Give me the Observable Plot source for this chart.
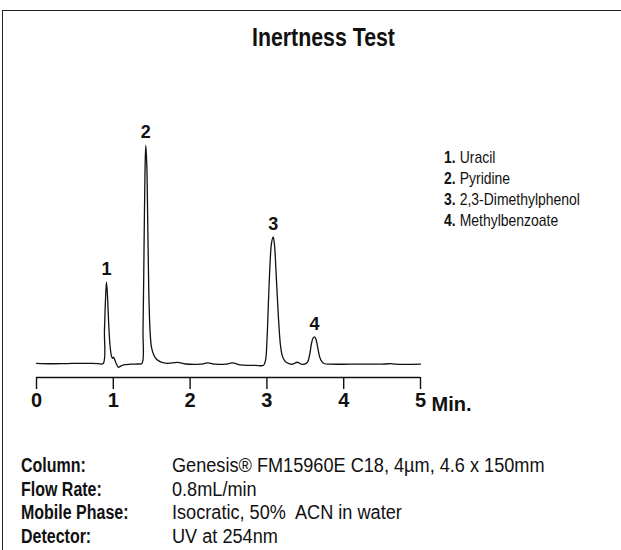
<!DOCTYPE html>
<html>
<head>
<meta charset="utf-8">
<script src="https://cdn.jsdelivr.net/npm/d3@7"></script>
<script src="https://cdn.jsdelivr.net/npm/@observablehq/plot@0.6"></script>
<style>
  html, body { margin: 0; padding: 0; background: #fff; overflow: hidden; }
  #wrap { position: relative; width: 621px; height: 550px; overflow: hidden; background: #fff;
          font-family: "Liberation Sans", Arial, sans-serif; color: #111; }
  #box { position: absolute; left: 2px; top: 10px; width: 800px; height: 800px;
         border-top: 1.6px solid #222; border-left: 1.6px solid #222; }
  .nar { display: inline-block; transform: scaleX(0.82); transform-origin: 0 0; white-space: nowrap; }
  .nar2 { display: inline-block; transform: scaleX(0.93); transform-origin: 0 0; white-space: nowrap; }
  #title { position: absolute; left: 252px; top: 22px; font-weight: bold; font-size: 26px; }
  #chart { position: absolute; left: 0; top: 60px; }
  #legend { position: absolute; left: 444px; top: 147px; font-size: 17px; line-height: 21px; }
  #legend b { margin-right: 5px; }
  #info { position: absolute; left: 21px; top: 454px; font-size: 19.5px; line-height: 23.7px; }
  #info .row { position: relative; height: 23.7px; }
  #info .k { position: absolute; left: 0; font-weight: bold; }
  #info .v { position: absolute; left: 151px; }
</style>
</head>
<body>
<div id="wrap">
  <div id="box"></div>
  <div id="title"><span class="nar"></span></div>
  <div id="chart"></div>
  <div id="legend"></div>
  <div id="info"></div>
</div>
<script>
// Chromatogram trace: time (min) and detector response (relative units)
const traceTime = [0, 0.2, 0.4, 0.6, 0.8, 0.868, 0.885, 0.898, 0.911, 0.924, 0.938, 0.957, 0.977, 0.99, 1.003, 1.022, 1.042, 1.068, 1.094, 1.133, 1.224, 1.328, 1.374,
  1.387, 1.400, 1.413, 1.423, 1.436, 1.449, 1.462, 1.478, 1.497, 1.523, 1.563, 1.615, 1.706, 1.836, 1.94, 2.135, 2.227, 2.331, 2.461, 2.552, 2.656, 2.852, 2.956,
  2.982, 3.001, 3.021, 3.04, 3.06, 3.082, 3.099, 3.118, 3.138, 3.158, 3.177, 3.203, 3.242, 3.294, 3.333, 3.395, 3.438, 3.49,
  3.529, 3.555, 3.581, 3.60, 3.62, 3.639, 3.659, 3.685, 3.711, 3.75, 3.828, 4.089, 4.349, 4.544, 4.609, 4.674, 5.0];
const traceSignal = [0.1, -0.1, 0, 0.1, 0, 0, 15.3, 29, 37.3, 31.3, 19.9, 8.4, 3.3, 2.4, 2.9, 1.5, -0.3, -1.7, -1.2, -0.6, -0.3, -0.2, 0.1,
  15.3, 52, 88.7, 100, 91, 63.4, 33.6, 15.3, 7.5, 4.3, 2, 0.8, 0.1, 0.5, -0.2, -0.3, 0.3, -0.3, -0.3, 0.3, -0.6, -0.8, -0.8,
  1.5, 10.7, 29, 45, 55.2, 58.1, 54.3, 42.8, 29, 16.7, 8.4, 3.3, 0.8, -0.1, -0.3, 0.6, -0.1, -0.3,
  0.6, 3.8, 9.3, 11.6, 12.2, 11.1, 7.9, 3.3, 1.1, -0.1, -0.3, -0.3, -0.3, -0.2, 0, -0.3, -0.3];

// Peaks
const peakNumbers = [1, 2, 3, 4];
const peakTimes = [0.911, 1.423, 3.082, 3.62];
const peakHeights = [37.3, 100, 58.1, 12.2];
const compounds = ["Uracil", "Pyridine", "2,3-Dimethylphenol", "Methylbenzoate"];

// Axis
const xTicks = [0, 1, 2, 3, 4, 5];
const xUnit = "Min.";
const title = "Inertness Test";

// Conditions
const condLabels = ["Column:", "Flow Rate:", "Mobile Phase:", "Detector:"];
const condValues = ["Genesis\u00AE FM15960E C18, 4\u00B5m, 4.6 x 150mm", "0.8mL/min", "Isocratic, 50%\u00A0 ACN in water", "UV at 254nm"];

const trace = traceTime.map((t, i) => ({t, s: traceSignal[i]}));
const peaks = peakNumbers.map((n, i) => ({n, t: peakTimes[i], s: peakHeights[i]}));
const yMin = -6.4, yMax = 100;

const font = '"Liberation Sans", Arial, sans-serif';

const plot = Plot.plot({
  width: 621,
  height: 370,
  marginLeft: 36,
  marginRight: 201,
  marginTop: 85,
  marginBottom: 53,
  style: {fontFamily: font, color: "#111", background: "transparent", overflow: "visible"},
  x: {domain: [0, 5], ticks: xTicks},
  y: {domain: [yMin, yMax], axis: null},
  marks: [
    Plot.ruleY([yMin], {x1: 0, x2: 5, stroke: "#111", strokeWidth: 1.6}),
    Plot.axisX({ticks: xTicks, tickSize: 12, tickPadding: 3, strokeWidth: 1.4, stroke: "#111",
      fontSize: 20, fontWeight: "bold", label: null, tickFormat: d => String(d)}),
    Plot.text([xUnit], {x: 5, frameAnchor: "bottom", dy: 33, dx: 11, textAnchor: "start",
      fontSize: 20, fontWeight: "bold", fill: "#111"}),
    Plot.line(trace, {x: "t", y: "s", stroke: "#111", strokeWidth: 1.3, curve: "catmull-rom"}),
    Plot.text(peaks, {x: "t", y: "s", text: d => String(d.n), dy: -13, fontSize: 18, fontWeight: "bold", fill: "#111"})
  ]
});
document.getElementById("chart").appendChild(plot);
document.querySelector("#title .nar").textContent = title;

const legend = document.getElementById("legend");
peakNumbers.forEach((n, i) => {
  const div = document.createElement("div");
  div.innerHTML = `<span class="nar"><b>${n}.</b>${compounds[i]}</span>`;
  legend.appendChild(div);
});
const info = document.getElementById("info");
condLabels.forEach((k, i) => {
  const row = document.createElement("div");
  row.className = "row";
  row.innerHTML = `<span class="k nar">${k}</span><span class="v nar2">${condValues[i]}</span>`;
  info.appendChild(row);
});
</script>
</body>
</html>
